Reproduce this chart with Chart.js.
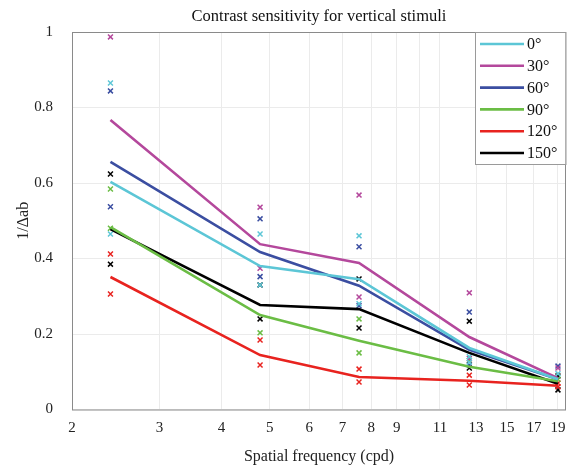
<!DOCTYPE html>
<html>
<head>
<meta charset="utf-8">
<script src="https://cdn.jsdelivr.net/npm/chart.js@4.4.1/dist/chart.umd.min.js"></script>
<style>
html,body{margin:0;padding:0;background:#fff;}
#wrap{width:569px;height:466px;position:relative;}
</style>
</head>
<body>
<div id="wrap"><canvas id="c" width="569" height="466"></canvas></div>
<script>
const freqs = [2.39, 4.78, 7.56, 12.6, 19];
const angleLabels = ['0°', '30°', '60°', '90°', '120°', '150°'];
const xTicks = [2, 3, 4, 5, 6, 7, 8, 9, 10, 11, 13, 15, 17, 19];
const xTickLabels = ['2', '3', '4', '5', '6', '7', '8', '9', '', '11', '13', '15', '17', '19'];
const yTicks = [0, 0.2, 0.4, 0.6, 0.8, 1];
const yTickLabels = ['0', '0.2', '0.4', '0.6', '0.8', '1'];

const mean0   = [0.603, 0.380, 0.345, 0.163, 0.080];
const mean30  = [0.767, 0.438, 0.388, 0.192, 0.083];
const mean60  = [0.656, 0.417, 0.328, 0.158, 0.080];
const mean90  = [0.483, 0.250, 0.182, 0.113, 0.075];
const mean120 = [0.351, 0.144, 0.086, 0.076, 0.063];
const mean150 = [0.478, 0.277, 0.266, 0.150, 0.068];

const obs0   = [[0.865, 0.465], [0.465, 0.330], [0.460, 0.280], [0.140, 0.125], [0.095]];
const obs30  = [[0.987], [0.536, 0.374], [0.568, 0.298], [0.309, 0.135], [0.110]];
const obs60  = [[0.844, 0.537], [0.505, 0.352], [0.431, 0.275], [0.258, 0.118], [0.115]];
const obs90  = [[0.584, 0.480], [0.203], [0.240, 0.150], [0.130], [0.080]];
const obs120 = [[0.412, 0.306], [0.184, 0.118], [0.107, 0.073], [0.091, 0.065], [0.070, 0.060]];
const obs150 = [[0.624, 0.385], [0.330, 0.240], [0.346, 0.216], [0.234, 0.110], [0.089, 0.052]];

const colors = ['#5cc6d6', '#b4489c', '#3b4ea1', '#6bbd45', '#e8231f', '#000000'];
const means = [mean0, mean30, mean60, mean90, mean120, mean150];
const obs = [obs0, obs30, obs60, obs90, obs120, obs150];

const datasets = [];
obs.forEach((o, i) => {
  const pts = [];
  o.forEach((vals, fi) => vals.forEach(v => pts.push({x: freqs[fi], y: v})));
  datasets.push({
    type: 'scatter', label: angleLabels[i] + ' obs', data: pts,
    pointStyle: 'crossRot', pointRadius: 3.5, pointBorderWidth: 1.5,
    borderColor: colors[i], backgroundColor: colors[i], showLine: false, order: 2
  });
});
means.forEach((m, i) => {
  datasets.push({
    type: 'line', label: angleLabels[i], data: m.map((v, fi) => ({x: freqs[fi], y: v})),
    borderColor: colors[i], backgroundColor: colors[i], borderWidth: 2.6,
    pointRadius: 0, tension: 0, order: 1
  });
});

const serif = '"Liberation Serif", "DejaVu Serif", serif';
const zeroPad = () => ({left: 0, top: 0, right: 0, bottom: 0});

const boxPlugin = {
  id: 'boxAndLegend',
  afterDraw(chart) {
    const {ctx, chartArea: a} = chart;
    ctx.save();
    ctx.strokeStyle = '#8a8a8a';
    ctx.lineWidth = 1;
    ctx.strokeRect(a.left + 0.5, a.top + 0.5, a.right - a.left - 1, a.bottom - a.top);
    ctx.fillStyle = '#111';
    ctx.font = '16.5px ' + serif;
    ctx.textAlign = 'center';
    ctx.textBaseline = 'middle';
    ctx.fillText('Contrast sensitivity for vertical stimuli', (a.left + a.right) / 2, 17);
    const lx = 475, ly = a.top + 0.5, lw = a.right - 0.5 - lx, lh = 132;
    ctx.fillStyle = '#fff';
    ctx.fillRect(lx, ly, lw, lh);
    ctx.strokeStyle = '#9a9a9a';
    ctx.strokeRect(lx + 0.5, ly, lw, lh);
    ctx.textAlign = 'left';
    ctx.font = '16px ' + serif;
    angleLabels.forEach((lab, i) => {
      const y = 44 + i * 21.8;
      ctx.strokeStyle = colors[i];
      ctx.lineWidth = 2.6;
      ctx.beginPath();
      ctx.moveTo(480, y);
      ctx.lineTo(524, y);
      ctx.stroke();
      ctx.fillStyle = '#111';
      ctx.fillText(lab, 527, y + 1);
    });
    ctx.restore();
  }
};

new Chart(document.getElementById('c'), {
  type: 'line',
  data: {datasets},
  options: {
    responsive: false,
    animation: false,
    layout: {autoPadding: false, padding: {left: 0, right: 3, top: 32, bottom: 0}},
    plugins: {legend: {display: false}, tooltip: {enabled: false}, title: {display: false}},
    scales: {
      x: {
        type: 'logarithmic', min: 2, max: 19.72,
        afterBuildTicks(s) { s.ticks = xTicks.map(v => ({value: v})); },
        afterFit(s) { s.height = 56.5; s.paddingLeft = 0; s.paddingRight = 0; s.getPadding = zeroPad; },
        ticks: {
          autoSkip: false, maxRotation: 0, padding: 10, color: '#222',
          font: {family: serif, size: 15},
          callback(v) { const k = xTicks.indexOf(v); return k >= 0 ? xTickLabels[k] : ''; }
        },
        grid: {color: '#ebebeb', drawTicks: false, tickLength: 0},
        border: {display: false},
        title: {display: true, text: 'Spatial frequency (cpd)', color: '#222',
                font: {family: serif, size: 16}, padding: {top: 4, bottom: 0}}
      },
      y: {
        min: 0, max: 1,
        afterBuildTicks(s) { s.ticks = yTicks.map(v => ({value: v})); },
        afterFit(s) { s.width = 72; s.paddingTop = 0; s.paddingBottom = 0; s.getPadding = zeroPad; },
        ticks: {
          padding: 19, color: '#222', font: {family: serif, size: 15},
          callback(v) { const k = yTicks.findIndex(t => Math.abs(t - v) < 1e-9); return k >= 0 ? yTickLabels[k] : ''; }
        },
        grid: {color: '#ebebeb', drawTicks: false, tickLength: 0},
        border: {display: false},
        title: {display: true, text: '1/Δab', color: '#222',
                font: {family: serif, size: 16}, padding: {top: 14, bottom: 0}}
      }
    }
  },
  plugins: [boxPlugin]
});
</script>
</body>
</html>
